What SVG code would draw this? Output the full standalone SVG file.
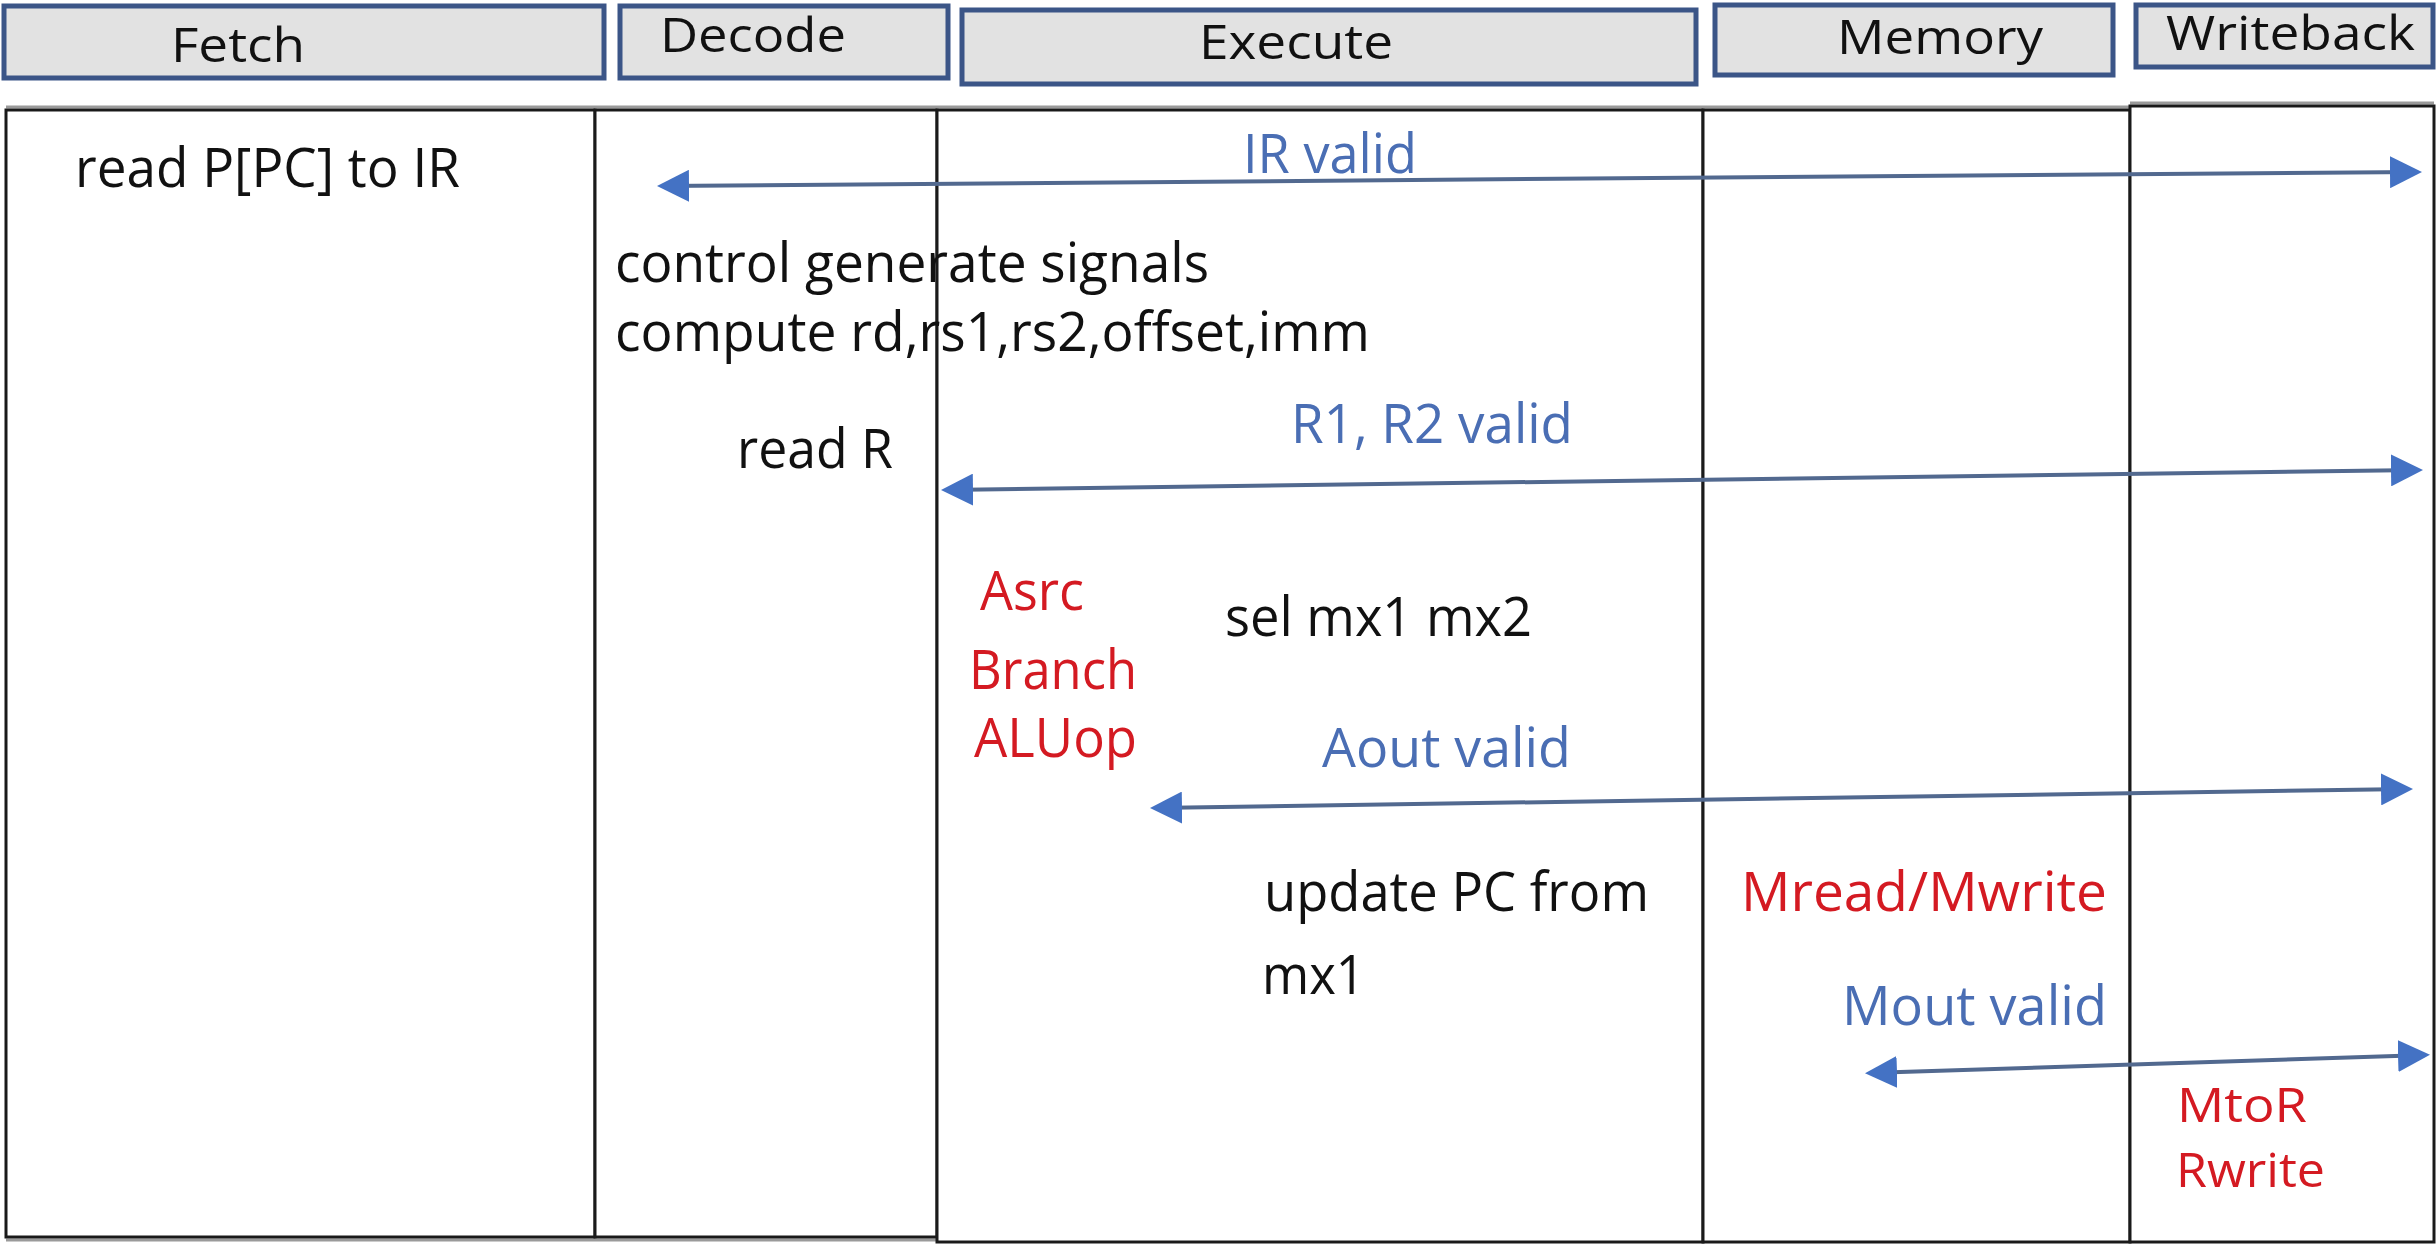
<svg xmlns="http://www.w3.org/2000/svg" width="2436" height="1245" viewBox="0 0 2436 1245">
  <style>
    .hdr { fill: #e2e2e2; stroke: #3b5587; stroke-width: 5; }
    .lane { fill: #ffffff; stroke: #1a1a1a; stroke-width: 3; }
    .shadow { fill: none; stroke: #9a9a9a; stroke-width: 3; }
    .htxt { font-family: "Open Sans", "Noto Sans", "Liberation Sans", sans-serif; font-size: 48px; fill: #111111; }
    .t { font-family: "Open Sans", "Noto Sans", "Liberation Sans", sans-serif; font-size: 55px; }
    .sm { font-size: 47px; }
    .blk { fill: #111111; }
    .blue { fill: #4a6eb4; }
    .red { fill: #d41a22; }
    .sig { fill: none; stroke: #52698f; stroke-width: 4; }
  </style>
  <defs>
    <marker id="head" viewBox="0 0 32 32" markerUnits="userSpaceOnUse" markerWidth="32" markerHeight="32" refX="28" refY="16" orient="auto-start-reverse">
      <path d="M0,0 L32,16 L0,32 Z" fill="#4472c4"/>
    </marker>
  </defs>

  <rect width="2436" height="1245" fill="#ffffff"/>

  <!-- stage headers -->
  <g id="hdr-fetch">
    <rect class="hdr" x="4" y="6" width="600" height="72"/>
    <text class="htxt" x="171" y="62" textLength="134" lengthAdjust="spacingAndGlyphs">Fetch</text>
  </g>
  <g id="hdr-decode">
    <rect class="hdr" x="620" y="6" width="328" height="72"/>
    <text class="htxt" x="660" y="52" textLength="186" lengthAdjust="spacingAndGlyphs">Decode</text>
  </g>
  <g id="hdr-execute">
    <rect class="hdr" x="962" y="10" width="734" height="74"/>
    <text class="htxt" x="1199" y="59" textLength="194" lengthAdjust="spacingAndGlyphs">Execute</text>
  </g>
  <g id="hdr-memory">
    <rect class="hdr" x="1715" y="5" width="398" height="70"/>
    <text class="htxt" x="1837" y="54" textLength="206" lengthAdjust="spacingAndGlyphs">Memory</text>
  </g>
  <g id="hdr-writeback">
    <rect class="hdr" x="2136" y="5" width="297" height="62"/>
    <text class="htxt" x="2166" y="50" textLength="249" lengthAdjust="spacingAndGlyphs">Writeback</text>
  </g>

  <!-- stage lanes -->
  <g id="lane-fetch">
    <polyline class="shadow" points="6,107 595,107"/>
    <polyline class="shadow" points="6,1240 595,1240"/>
    <rect class="lane" x="6" y="110" width="589" height="1127"/>
    <text class="t blk" x="75" y="187" textLength="385" lengthAdjust="spacingAndGlyphs">read P[PC] to IR</text>
  </g>
  <g id="lane-decode">
    <polyline class="shadow" points="595,107 937,107"/>
    <polyline class="shadow" points="595,1240 937,1240"/>
    <rect class="lane" x="595" y="110" width="342" height="1127" fill="none"/>
    <text class="t blk" x="737" y="468" textLength="156" lengthAdjust="spacingAndGlyphs">read R</text>
  </g>
  <g id="lane-execute">
    <polyline class="shadow" points="937,107 1703,107"/>
    <rect class="lane" x="937" y="110" width="766" height="1132"/>
    <text class="t red" x="980" y="610" textLength="104" lengthAdjust="spacingAndGlyphs">Asrc</text>
    <text class="t red" x="969" y="689" textLength="168" lengthAdjust="spacingAndGlyphs">Branch</text>
    <text class="t red" x="974" y="757" textLength="163" lengthAdjust="spacingAndGlyphs">ALUop</text>
    <text class="t blk" x="1225" y="636" textLength="307" lengthAdjust="spacingAndGlyphs">sel mx1 mx2</text>
    <text class="t blk" x="1264" y="911" textLength="385" lengthAdjust="spacingAndGlyphs">update PC from</text>
    <text class="t blk" x="1262" y="994" textLength="103" lengthAdjust="spacingAndGlyphs">mx1</text>
  </g>
  <g id="lane-memory">
    <polyline class="shadow" points="1703,107 2130,107"/>
    <rect class="lane" x="1703" y="110" width="427" height="1132"/>
    <text class="t red" x="1741" y="911" textLength="366" lengthAdjust="spacingAndGlyphs">Mread/Mwrite</text>
  </g>
  <g id="lane-writeback">
    <polyline class="shadow" points="2130,103 2434,103"/>
    <rect class="lane" x="2130" y="106" width="304" height="1136"/>
    <text class="t sm red" x="2177" y="1122" textLength="130" lengthAdjust="spacingAndGlyphs">MtoR</text>
    <text class="t sm red" x="2176" y="1187" textLength="149" lengthAdjust="spacingAndGlyphs">Rwrite</text>
  </g>

  <!-- decode text spans over the execute lane border -->
  <g id="decode-notes">
    <text class="t blk" x="615" y="282" textLength="594" lengthAdjust="spacingAndGlyphs">control generate signals</text>
    <text class="t blk" x="615" y="351" textLength="755" lengthAdjust="spacingAndGlyphs">compute rd,rs1,rs2,offset,imm</text>
  </g>

  <!-- valid-signal connectors -->
  <g id="connectors">
    <line class="sig" x1="661" y1="186" x2="2418" y2="172" marker-start="url(#head)" marker-end="url(#head)"/>
    <text class="t blue" x="1243" y="173" textLength="174" lengthAdjust="spacingAndGlyphs">IR valid</text>

    <line class="sig" x1="945" y1="490" x2="2419" y2="470" marker-start="url(#head)" marker-end="url(#head)"/>
    <text class="t blue" x="1291" y="443" textLength="282" lengthAdjust="spacingAndGlyphs">R1, R2 valid</text>

    <line class="sig" x1="1154" y1="808" x2="2409" y2="789" marker-start="url(#head)" marker-end="url(#head)"/>
    <text class="t blue" x="1322" y="767" textLength="249" lengthAdjust="spacingAndGlyphs">Aout valid</text>

    <line class="sig" x1="1869" y1="1073" x2="2426" y2="1055" marker-start="url(#head)" marker-end="url(#head)"/>
    <text class="t blue" x="1842" y="1025" textLength="265" lengthAdjust="spacingAndGlyphs">Mout valid</text>
  </g>
</svg>
